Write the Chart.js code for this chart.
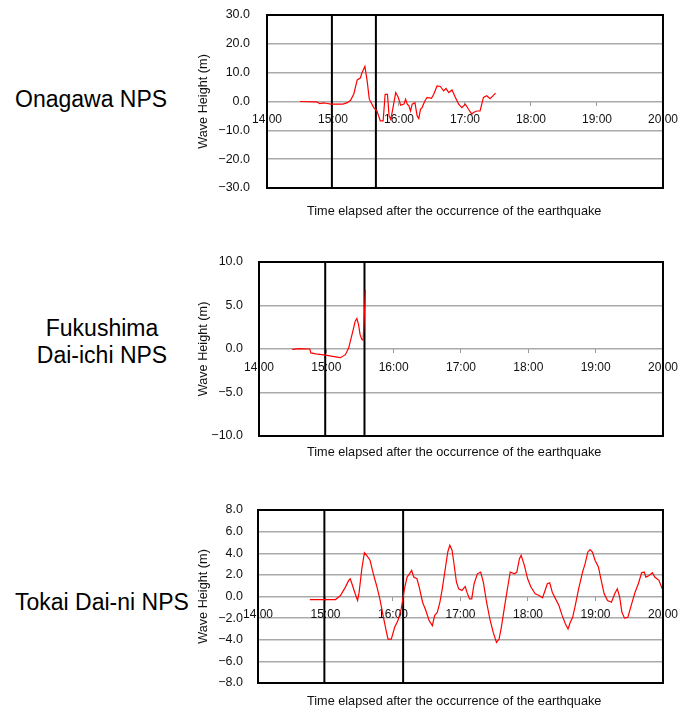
<!DOCTYPE html>
<html>
<head>
<meta charset="utf-8">
<script src="https://cdn.jsdelivr.net/npm/chart.js@4/dist/chart.umd.min.js"></script>
<style>
  body { margin: 0; background: #fff; }
  #page { position: relative; width: 685px; height: 715px; font-family: "Liberation Sans", Arial, sans-serif; color: #000; }
  canvas { position: absolute; }
  .site { position: absolute; font-size: 23px; line-height: 26.6px; white-space: nowrap; }
  .xtitle { position: absolute; font-size: 12.7px; line-height: 15px; white-space: nowrap; color: #111; }
</style>
</head>
<body>
<div id="page">
  <div class="site" style="left:15px; top:86px;">Onagawa NPS</div>
  <div class="site" style="left:0; top:315px; width:204px; text-align:center;">Fukushima<br>Dai-ichi NPS</div>
  <div class="site" style="left:15px; top:589px;">Tokai Dai-ni NPS</div>

  <canvas id="onagawaChart" width="495" height="230" style="left:190px; top:0;"></canvas>
  <canvas id="fukushimaChart" width="495" height="230" style="left:190px; top:245px;"></canvas>
  <canvas id="tokaiChart" width="495" height="225" style="left:190px; top:490px;"></canvas>

  <div class="xtitle" style="left:307px; top:204px;">Time elapsed after the occurrence of the earthquake</div>
  <div class="xtitle" style="left:307px; top:445px;">Time elapsed after the occurrence of the earthquake</div>
  <div class="xtitle" style="left:307px; top:694px;">Time elapsed after the occurrence of the earthquake</div>
</div>

<script>
// x values are minutes after 14:00
const hourLabels = ['14:00', '15:00', '16:00', '17:00', '18:00', '19:00', '20:00'];

const onagawaTime = [30, 45, 48, 51, 54, 58, 69, 73, 76, 79,
  82, 85, 86, 89, 91, 93, 97, 100, 103, 105.6,
  107.4, 109.5, 111, 112.5, 114, 117, 119.4, 121.5, 124.5, 126,
  127.5, 129, 130.5, 132, 134.5, 136.5, 138, 139.5, 141, 143.5,
  145.6, 149.5, 151.6, 154.6, 157.6, 160.6, 162.7, 165.2, 168.2, 171.3,
  174.2, 177.2, 180.3, 183.2, 186.2, 187.7, 190.7, 193.7, 196.8, 199.8,
  202.8, 205.8, 207.8];
const onagawaHeight = [0, -0.1, -0.7, -0.5, -0.6, -0.9, -0.9, -0.4, 0.4, 2.7,
  7.5, 8.2, 9.6, 12.2, 7.3, 0.8, -2.1, -3.3, -6.7, -6.7,
  2.5, 2.5, -5.0, -6.2, -3.3, 3.1, 1.4, -1.3, -0.9, 0.8,
  -0.9, -1.5, -3.3, -0.9, -0.4, -5.0, -5.9, -2.7, -2.1, 0.2,
  1.4, 1.1, 2.5, 5.4, 5.2, 3.7, 4.5, 3.1, 4.0, 1.4,
  -0.9, -2.1, -0.9, -2.7, -4.4, -3.8, -3.3, -3.3, 1.4, 2.0,
  1.0, 2.1, 2.9];
const onagawaMarkers = [59, 99];

const fukushimaTime = [29.6, 36, 45.3, 46.2, 50.6, 59.4, 68.2, 72.6, 77, 79.9,
  82.2, 84.3, 85.7, 87.2, 88.7, 90.1, 91.6, 92.8, 94, 94.8];
const fukushimaHeight = [-0.05, 0.05, 0, -0.45, -0.55, -0.7, -0.9, -1.0, -0.65, 0.1,
  1.3, 2.4, 3.2, 3.5, 2.8, 1.65, 1.1, 1.0, 4.2, 6.8];
const fukushimaMarkers = [59, 94];

const tokaiTime = [46.1, 68.9, 73.3, 77.7, 80.6, 82, 83.5, 86.4, 88.5, 89.9,
  92.3, 94.6, 96.6, 99.6, 102.5, 105.4, 108.3, 111.2, 114.2, 115.6,
  118.5, 121.5, 124.4, 127.3, 130.2, 132.5, 134.6, 136.6, 138.4, 141.3,
  143.3, 146.3, 149.2, 152.1, 155, 157, 159.4, 161.7, 163.8, 166.7,
  168.7, 170.5, 172.5, 174, 176.4, 178.4, 181.3, 184.2, 185.7, 188,
  190, 192.1, 195, 197.9, 200.3, 203.2, 206.1, 209.1, 212, 214.3,
  216.3, 219.3, 222.2, 224.2, 228, 230.1, 232.4, 233.9, 236.8, 239.7,
  242.6, 246.4, 249.9, 252.9, 255.2, 257.2, 259.3, 261.6, 264.5, 267.5,
  270.4, 273.3, 275.6, 277.6, 279.7, 282, 285, 288.5, 290.8, 293.2,
  295.2, 297.3, 299.6, 302.6, 304.8, 307.7, 310.7, 314.2, 317.1, 319.4,
  321.5, 323.5, 325.8, 328.8, 331.7, 335.2, 338.1, 341, 343.3, 344.8,
  347.7, 350.6, 352.7, 356.4, 359.3];
const tokaiHeight = [-0.28, -0.28, 0.09, 0.87, 1.49, 1.64, 1.18, 0.25, -0.37, 0.4,
  2.57, 4.06, 3.8, 3.35, 2.1, 1.02, -0.22, -1.77, -3.3, -3.94,
  -3.94, -2.85, -2.23, -1.15, 0.71, 1.8, 2.1, 2.42, 1.8, 1.64,
  0.87, -0.53, -1.3, -2.23, -2.7, -1.77, -1.46, -0.53, 0.71, 2.73,
  4.12, 4.74, 4.28, 3.19, 1.33, 0.71, 0.56, 0.93, 0.4, -0.22,
  -0.22, 1.18, 2.1, 2.26, 1.33, -0.53, -2.08, -3.32, -4.25, -3.94,
  -2.85, -0.84, 1.02, 2.26, 2.1, 2.26, 3.5, 3.8, 2.88, 1.64,
  0.87, 0.25, 0.09, -0.12, 0.56, 1.18, 1.27, 0.4, -0.22, -0.84,
  -1.77, -2.54, -3.0, -2.39, -1.92, -0.84, 0.71, 2.26, 3.04, 4.12,
  4.34, 4.12, 3.35, 2.73, 1.64, 0.25, -0.37, -0.53, 0.25, 0.71,
  -0.06, -1.46, -2.0, -1.92, -0.84, 0.4, 1.18, 2.2, 2.26, 1.8,
  1.95, 2.2, 1.8, 1.49, 0.71];
const tokaiMarkers = [59, 129];

// black frame round the plot area
const framePlugin = {
  id: 'frame',
  afterDatasetsDraw(chart) {
    const a = chart.chartArea;
    const ctx = chart.ctx;
    ctx.save();
    ctx.strokeStyle = '#000';
    ctx.lineWidth = 2;
    ctx.strokeRect(a.left, a.top, a.right - a.left, a.bottom - a.top);
    ctx.restore();
  }
};

function formatHeight(v) {
  return (v < 0 ? '\u2212' : '') + Math.abs(v).toFixed(1);
}

function makeChart(id, times, heights, markers, yMin, yMax, yStep, box) {
  const datasets = [{
    data: times.map((t, i) => ({ x: t, y: heights[i] })),
    borderColor: '#ff0000',
    borderWidth: 1.2,
    pointRadius: 0,
    tension: 0
  }];
  markers.forEach(t => {
    datasets.push({
      data: [{ x: t, y: yMin }, { x: t, y: yMax }],
      borderColor: '#000',
      borderWidth: 2,
      pointRadius: 0
    });
  });

  new Chart(document.getElementById(id), {
    type: 'line',
    data: { datasets: datasets },
    options: {
      responsive: false,
      animation: false,
      layout: { padding: { left: 0, right: box.right, top: box.top, bottom: box.bottom } },
      plugins: { legend: { display: false }, tooltip: { enabled: false } },
      scales: {
        x: {
          type: 'linear',
          position: { y: 0 },
          min: 0,
          max: 360,
          afterFit: s => { s.height = 0; },
          border: { display: false },
          grid: { drawOnChartArea: false, tickLength: 4, color: '#999' },
          ticks: {
            stepSize: 60,
            autoSkip: false,
            maxRotation: 0,
            padding: 7,
            color: '#111',
            font: { family: 'Liberation Sans', size: 12 },
            callback: v => hourLabels[Math.round(v / 60)]
          }
        },
        y: {
          min: yMin,
          max: yMax,
          // fixed axis width, and no extra room kept above/below the plot
          afterFit: s => { s.width = box.left; s.paddingTop = 0; s.paddingBottom = 0; },
          border: { display: false },
          grid: { color: '#aaaaaa', lineWidth: 1.5, drawTicks: false },
          ticks: {
            stepSize: yStep,
            padding: box.tickPad,
            color: '#111',
            font: { family: 'Liberation Sans', size: 12.5 },
            callback: v => formatHeight(v)
          },
          title: {
            display: true,
            text: 'Wave Height (m)',
            color: '#111',
            padding: { top: 6, bottom: 0 },
            font: { family: 'Liberation Sans', size: 12.7 }
          }
        }
      }
    },
    plugins: [framePlugin]
  });
}

makeChart('onagawaChart', onagawaTime, onagawaHeight, onagawaMarkers, -30, 30, 10,
  { left: 77, right: 19, top: 15, bottom: 42, tickPad: 17 });
makeChart('fukushimaChart', fukushimaTime, fukushimaHeight, fukushimaMarkers, -10, 10, 5,
  { left: 69, right: 16, top: 17, bottom: 39, tickPad: 16 });
makeChart('tokaiChart', tokaiTime, tokaiHeight, tokaiMarkers, -8, 8, 2,
  { left: 68, right: 16, top: 20, bottom: 32, tickPad: 15 });
</script>
</body>
</html>
